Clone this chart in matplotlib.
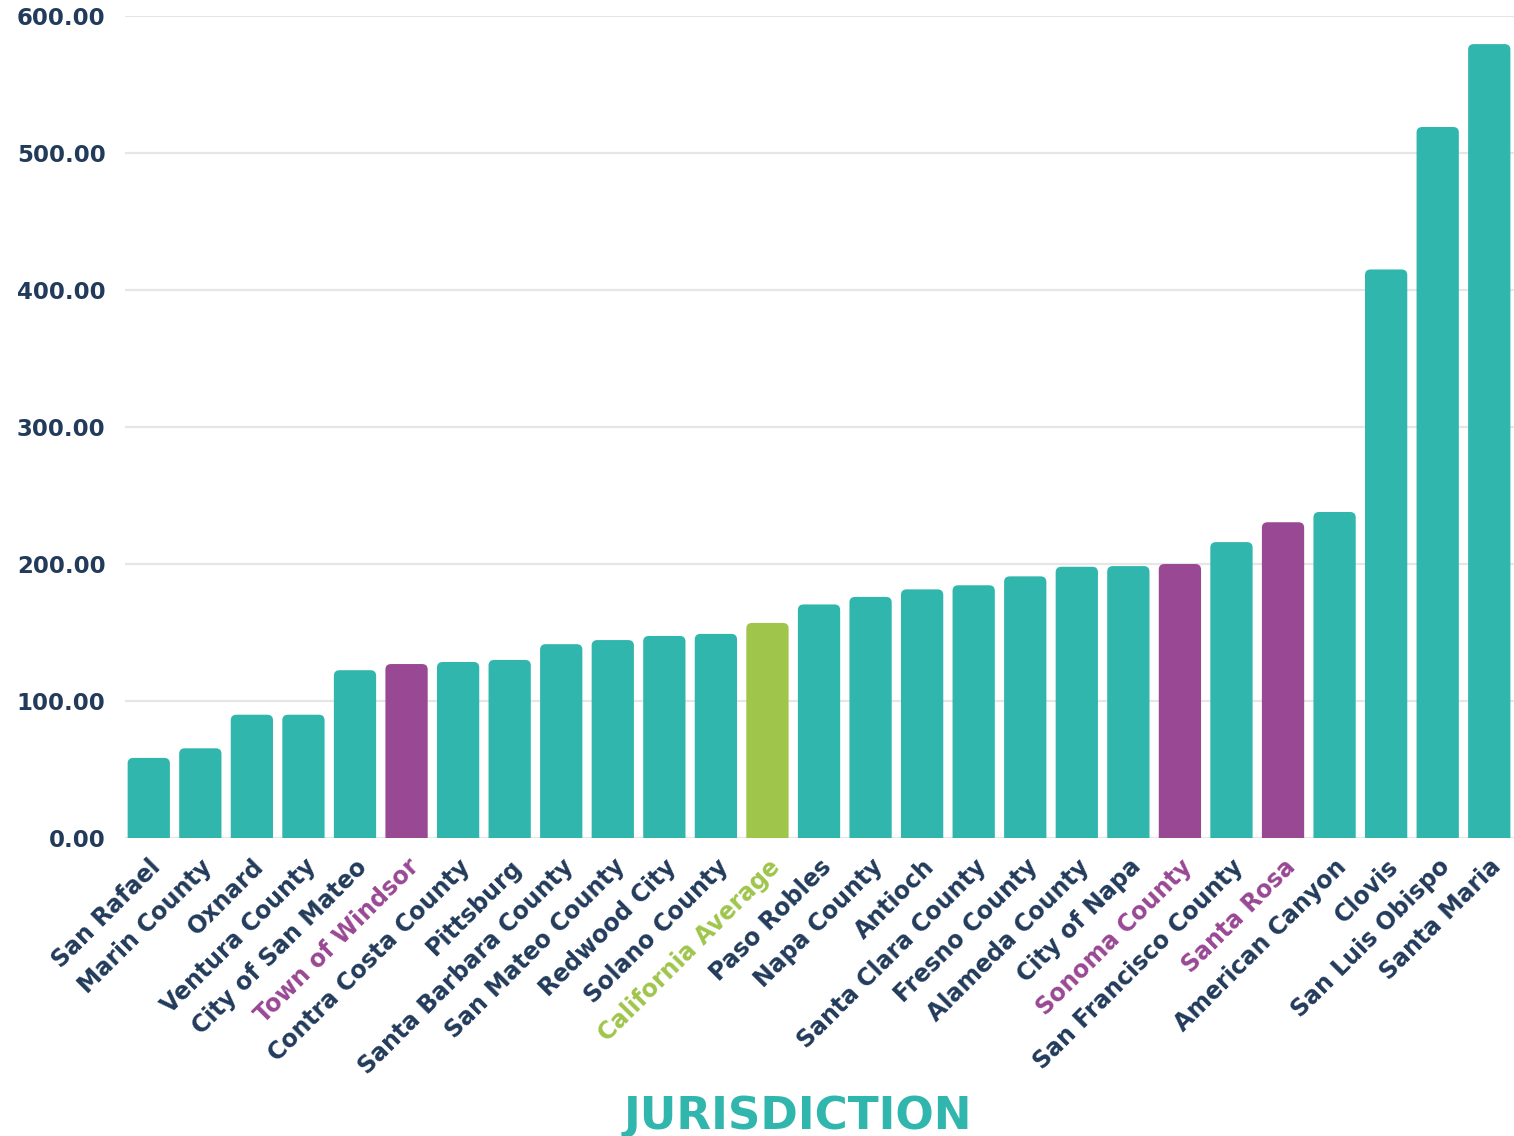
import matplotlib
matplotlib.use("Agg")
import matplotlib.pyplot as plt
from matplotlib.patches import FancyBboxPatch

# data
jurisdictions = [
    "San Rafael", "Marin County", "Oxnard", "Ventura County", "City of San Mateo",
    "Town of Windsor", "Contra Costa County", "Pittsburg", "Santa Barbara County",
    "San Mateo County", "Redwood City", "Solano County", "California Average",
    "Paso Robles", "Napa County", "Antioch", "Santa Clara County", "Fresno County",
    "Alameda County", "City of Napa", "Sonoma County", "San Francisco County",
    "Santa Rosa", "American Canyon", "Clovis", "San Luis Obispo", "Santa Maria",
]
values = [
    58.5, 65.5, 90.0, 90.0, 122.5,
    127.0, 128.5, 130.0, 141.5,
    144.5, 147.5, 149.0, 157.0,
    170.5, 176.0, 181.5, 184.5, 191.0,
    198.0, 198.5, 200.0, 216.0,
    230.5, 238.0, 415.0, 519.0, 579.5,
]
highlight_purple = ["Town of Windsor", "Sonoma County", "Santa Rosa"]
highlight_green = ["California Average"]
y_ticks = [0, 100, 200, 300, 400, 500, 600]

TEAL = "#31b6ae"
PURPLE = "#994893"
GREEN = "#9fc54b"
NAVY = "#223b5b"

plt.rcParams["font.family"] = ["DejaVu Sans"]


def colour_for(name, default):
    if name in highlight_purple:
        return PURPLE
    if name in highlight_green:
        return GREEN
    return default


fig = plt.figure(figsize=(15.14, 11.36), dpi=100)
ax = fig.add_axes([0.0826, 0.2623, 0.9174, 0.7236])

x = range(len(jurisdictions))
bar_colours = [colour_for(n, TEAL) for n in jurisdictions]
bars = ax.bar(x, values, width=0.82, color=bar_colours, zorder=2)

# swap the plain rectangles for ones with rounded tops
# (bottoms pushed below 0 so the axes clip their rounding away)
for rect, col in zip(bars, bar_colours):
    rect.set_visible(False)
    ax.add_patch(FancyBboxPatch(
        (rect.get_x(), -10), rect.get_width(), rect.get_height() + 10,
        boxstyle="round,pad=0,rounding_size=0.11", mutation_aspect=37,
        facecolor=col, edgecolor="none", zorder=2))

ax.set_ylim(0, 600)
ax.set_xlim(-0.46, len(jurisdictions) - 0.52)
ax.set_yticks(y_ticks)
ax.set_yticklabels([f"{v:.2f}" for v in y_ticks], fontsize=16.5,
                   fontweight="bold", color=NAVY)
ax.grid(axis="y", color="#e6e6e6", linewidth=1.6, zorder=0)
ax.set_axisbelow(True)
for s in ax.spines.values():
    s.set_visible(False)
ax.tick_params(axis="both", length=0)
ax.tick_params(axis="y", pad=14)

ax.set_xticks(list(x))
ax.set_xticklabels(jurisdictions, rotation=45, ha="right", va="top",
                   rotation_mode="anchor", fontsize=17, fontweight="bold")
for lbl, name in zip(ax.get_xticklabels(), jurisdictions):
    lbl.set_color(colour_for(name, NAVY))
ax.tick_params(axis="x", pad=12)

fig.text(0.527, 0.006, "JURISDICTION", ha="center", va="baseline",
         fontsize=32.5, fontweight="bold", color=TEAL)

fig.savefig("out.png", dpi=100, facecolor="white")
